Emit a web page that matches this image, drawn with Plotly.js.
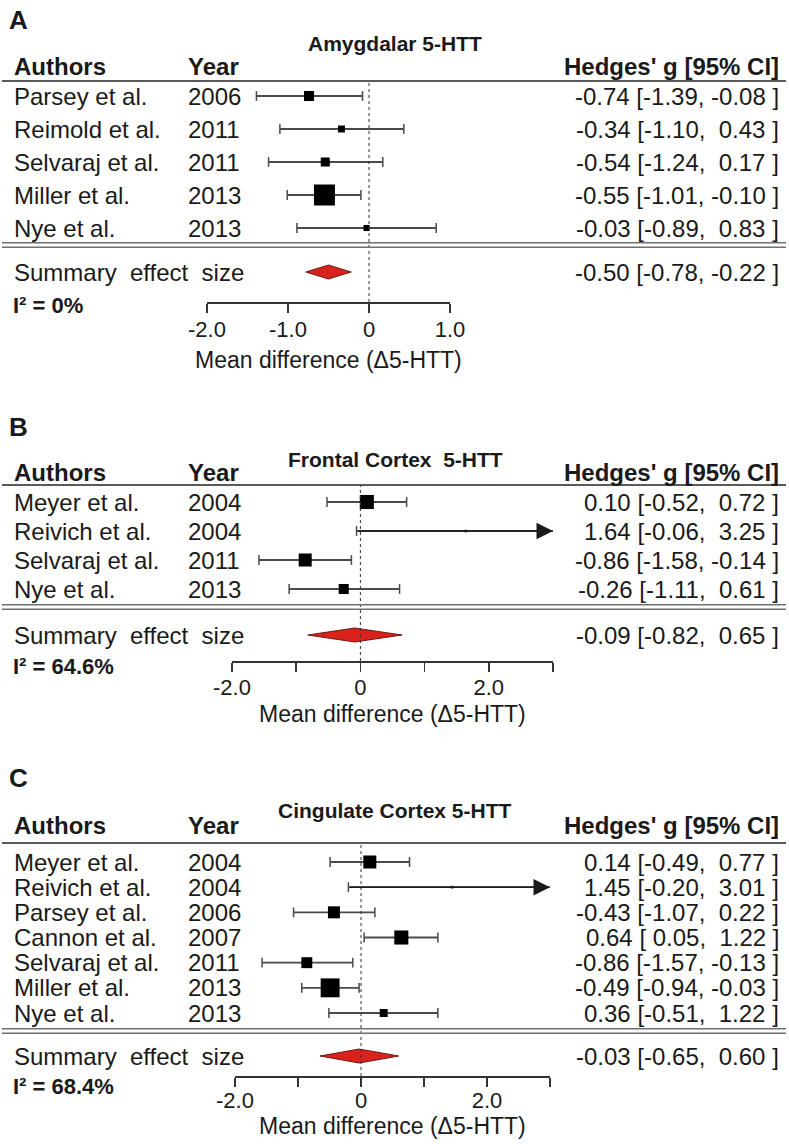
<!DOCTYPE html>
<html>
<head>
<meta charset="utf-8">
<script src="https://cdn.plot.ly/plotly-3.0.1.min.js"></script>
<style>
html,body{margin:0;padding:0;background:#fff;}
#chart{width:789px;height:1144px;}
</style>
</head>
<body>
<div id="chart"></div>
<script>
// ---------------- DATA ----------------
// Panel A: Amygdalar 5-HTT
const authorsA = ["Parsey et al.", "Reimold et al.", "Selvaraj et al.", "Miller et al.", "Nye et al."];
const yearsA   = [2006, 2011, 2011, 2013, 2013];
const estA     = [-0.74, -0.34, -0.54, -0.55, -0.03];
const lowerA   = [-1.39, -1.10, -1.24, -1.01, -0.89];
const upperA   = [-0.08,  0.43,  0.17, -0.10,  0.83];
const weightsA = [0.48, 0.33, 0.43, 1.00, 0.29];   // relative study weights (square size)
const summaryA = [-0.50, -0.78, -0.22];            // estimate, lower, upper
const i2A      = "0%";

// Panel B: Frontal Cortex 5-HTT
const authorsB = ["Meyer et al.", "Reivich et al.", "Selvaraj et al.", "Nye et al."];
const yearsB   = [2004, 2004, 2011, 2013];
const estB     = [0.10, 1.64, -0.86, -0.26];
const lowerB   = [-0.52, -0.06, -1.58, -1.11];
const upperB   = [0.72, 3.25, -0.14, 0.61];
const weightsB = [0.67, 0.12, 0.62, 0.48];
const summaryB = [-0.09, -0.82, 0.65];
const i2B      = "64.6%";

// Panel C: Cingulate Cortex 5-HTT
const authorsC = ["Meyer et al.", "Reivich et al.", "Parsey et al.", "Cannon et al.", "Selvaraj et al.", "Miller et al.", "Nye et al."];
const yearsC   = [2004, 2004, 2006, 2007, 2011, 2013, 2013];
const estC     = [0.14, 1.45, -0.43, 0.64, -0.86, -0.49, 0.36];
const lowerC   = [-0.49, -0.20, -1.07, 0.05, -1.57, -0.94, -0.51];
const upperC   = [0.77, 3.01, 0.22, 1.22, -0.13, -0.03, 1.22];
const weightsC = [0.62, 0.12, 0.57, 0.67, 0.52, 0.90, 0.38];
const summaryC = [-0.03, -0.65, 0.60];
const i2C      = "68.4%";

const titles  = ["Amygdalar 5-HTT", "Frontal Cortex\u00a0 5-HTT", "Cingulate Cortex 5-HTT"];
const letters = ["A", "B", "C"];
const tickVals  = [[-2, -1, 0, 1], [-2, -1, 0, 1, 2, 3], [-2, -1, 0, 1, 2, 3]];
const tickTexts = [["-2.0", "-1.0", "0", "1.0"], ["-2.0", "", "0", "", "2.0", ""], ["-2.0", "", "0", "", "2.0", ""]];
const axisTitle = "Mean difference (\u03945-HTT)";
const colHeaders = ["Authors", "Year", "Hedges' g [95% CI]"];
const summaryLabel = "Summary\u00a0 effect\u00a0 size";

// ---------------- LAYOUT (pixel geometry) ----------------
const W = 789, H = 1144;
const px = x => x / W;
const py = y => 1 - y / H;
const FONT = "Liberation Sans, Arial, Helvetica, sans-serif";
const TXT = "#1a1a1a";

const geo = [
  {letterY: 20, titleY: 43, headY: 67, top: 81, row1: 96, step: 33, dbl: 245, sum: 272, bottom: 302,
   i2Y: 305, axTitleY: 360, tickStand: -2, xL: 207, xR: 450, xmin: -2, xmax: 1},
  {letterY: 427, titleY: 459, headY: 472, top: 485, row1: 502, step: 29, dbl: 607, sum: 635, bottom: 661,
   i2Y: 666, axTitleY: 714, tickStand: -3, xL: 232, xR: 553, xmin: -2, xmax: 3},
  {letterY: 778, titleY: 810, headY: 826, top: 843, row1: 862, step: 25.17, dbl: 1031, sum: 1056, bottom: 1076,
   i2Y: 1086, axTitleY: 1126, tickStand: -5, xL: 235, xR: 550, xmin: -2, xmax: 3}
];

const panels = [
  {authors: authorsA, years: yearsA, est: estA, lo: lowerA, hi: upperA, w: weightsA, sum: summaryA, i2: i2A},
  {authors: authorsB, years: yearsB, est: estB, lo: lowerB, hi: upperB, w: weightsB, sum: summaryB, i2: i2B},
  {authors: authorsC, years: yearsC, est: estC, lo: lowerC, hi: upperC, w: weightsC, sum: summaryC, i2: i2C}
];

const MAXSQ = 21;          // px side of the largest square
const DIAMOND_HALF = 7;    // px half-height of summary diamond
const ROWFS = 24;

const fmt = v => (v < 0 ? "" : "\u00a0") + v.toFixed(2);
const ciText = (e, l, h) => e.toFixed(2) + " [" + fmt(l) + ",\u00a0" + fmt(h) + "\u00a0]";

const traces = [];
const annotations = [];
const shapes = [];
const layout = {
  width: W, height: H,
  margin: {l: 0, r: 0, t: 0, b: 0, pad: 0},
  paper_bgcolor: "#ffffff", plot_bgcolor: "rgba(0,0,0,0)",
  showlegend: false, hovermode: false,
  font: {family: FONT, color: TXT}
};

panels.forEach((d, p) => {
  const g = geo[p];
  const sfx = p === 0 ? "" : String(p + 1);
  const xa = "x" + sfx, ya = "y" + sfx;

  // axes
  layout["xaxis" + sfx] = {
    domain: [px(g.xL), px(g.xR)], range: [g.xmin, g.xmax], anchor: ya,
    showline: true, linecolor: "#333", linewidth: 1.5, mirror: false,
    ticks: "outside", ticklen: 9, tickwidth: 1.5, tickcolor: "#333",
    tickmode: "array", tickvals: tickVals[p], ticktext: tickTexts[p],
    ticklabelstandoff: g.tickStand,
    tickfont: {family: FONT, size: 22, color: TXT},
    showgrid: false, zeroline: false, fixedrange: true
  };
  layout["yaxis" + sfx] = {
    domain: [py(g.bottom), py(g.top)],
    range: [(g.bottom - g.row1) / g.step, (g.top - g.row1) / g.step],
    anchor: xa, visible: false, showgrid: false, zeroline: false, fixedrange: true
  };

  const rows = d.authors.map((_, i) => i);
  const sumRow = (g.sum - g.row1) / g.step;
  const dh = DIAMOND_HALF / g.step;

  // CI lines (clipped at axis max)
  const lx = [], ly = [];
  d.lo.forEach((l, i) => { lx.push(l, Math.min(d.hi[i], g.xmax), null); ly.push(i, i, null); });
  traces.push({type: "scatter", mode: "lines", x: lx, y: ly, xaxis: xa, yaxis: ya,
    line: {color: "#4a4a4a", width: 1.8}, hoverinfo: "skip"});

  // whisker caps
  const cx = [], cy = [];
  d.lo.forEach((l, i) => {
    cx.push(l); cy.push(i);
    if (d.hi[i] <= g.xmax) { cx.push(d.hi[i]); cy.push(i); }
  });
  traces.push({type: "scatter", mode: "markers", x: cx, y: cy, xaxis: xa, yaxis: ya,
    marker: {symbol: "line-ns", size: 7, color: "#4a4a4a", opacity: 1,
      line: {color: "#4a4a4a", width: 1.5}}, hoverinfo: "skip"});

  // arrows for CIs beyond the axis
  d.hi.forEach((h, i) => {
    if (h > g.xmax) {
      annotations.push({xref: xa, yref: ya, axref: xa, ayref: ya,
        x: g.xmax, y: i, ax: d.lo[i], ay: i, text: "", showarrow: true,
        arrowhead: 2, arrowsize: 2.2, arrowwidth: 1.5, arrowcolor: "#1a1a1a", standoff: 0});
    }
  });

  // study squares
  traces.push({type: "scatter", mode: "markers", x: d.est, y: rows, xaxis: xa, yaxis: ya,
    marker: {symbol: "square", size: d.w.map(w => Math.max(2.5, w * MAXSQ)), color: "#000000",
      opacity: 1, line: {width: 0}}, hoverinfo: "skip"});

  // summary diamond
  const [se, sl, sh] = d.sum;
  traces.push({type: "scatter", mode: "lines", xaxis: xa, yaxis: ya,
    x: [sl, se, sh, se, sl], y: [sumRow, sumRow - dh, sumRow, sumRow + dh, sumRow],
    fill: "toself", fillcolor: "#d9221c", line: {color: "#6e1a16", width: 1}, hoverinfo: "skip"});

  // no-effect dotted line
  shapes.push({type: "line", xref: xa, yref: "paper", x0: 0, x1: 0, y0: py(g.bottom), y1: py(g.top),
    line: {color: "#333", width: 1, dash: "dot"}});

  // header line and double separator line
  shapes.push({type: "line", xref: "paper", yref: "paper", x0: px(2), x1: px(786), y0: py(g.top), y1: py(g.top),
    line: {color: "#5a5a5a", width: 2}});
  [-2.2, 2.2].forEach(o => shapes.push({type: "line", xref: "paper", yref: "paper",
    x0: px(2), x1: px(786), y0: py(g.dbl + o), y1: py(g.dbl + o), line: {color: "#707070", width: 1.6}}));

  // panel letter & title
  annotations.push({xref: "paper", yref: "paper", x: px(7), y: py(g.letterY), xanchor: "left", yanchor: "middle",
    text: "<b>" + letters[p] + "</b>", showarrow: false, font: {family: FONT, size: 26, color: TXT}});
  annotations.push({xref: "paper", yref: "paper", x: px(395), y: py(g.titleY), xanchor: "center", yanchor: "middle",
    text: "<b>" + titles[p] + "</b>", showarrow: false, font: {family: FONT, size: 21, color: TXT}});

  // column headers
  const hx = [[12, "left"], [186, "left"], [781, "right"]];
  colHeaders.forEach((t, j) => annotations.push({xref: "paper", yref: "paper", x: px(hx[j][0]), y: py(g.headY),
    xanchor: hx[j][1], yanchor: "middle", text: "<b>" + t + "</b>", showarrow: false,
    font: {family: FONT, size: 24, color: TXT}}));

  // study rows
  d.authors.forEach((a, i) => {
    annotations.push({xref: "paper", yref: ya, x: px(12), y: i, xanchor: "left", yanchor: "middle",
      text: a, showarrow: false, font: {family: FONT, size: ROWFS, color: TXT}});
    annotations.push({xref: "paper", yref: ya, x: px(186), y: i, xanchor: "left", yanchor: "middle",
      text: String(d.years[i]), showarrow: false, font: {family: FONT, size: ROWFS, color: TXT}});
    annotations.push({xref: "paper", yref: ya, x: px(781), y: i, xanchor: "right", yanchor: "middle",
      text: ciText(d.est[i], d.lo[i], d.hi[i]), showarrow: false, font: {family: FONT, size: ROWFS, color: TXT}});
  });

  // summary row
  annotations.push({xref: "paper", yref: ya, x: px(12), y: sumRow, xanchor: "left", yanchor: "middle",
    text: summaryLabel, showarrow: false, font: {family: FONT, size: ROWFS, color: TXT}});
  annotations.push({xref: "paper", yref: ya, x: px(781), y: sumRow, xanchor: "right", yanchor: "middle",
    text: ciText(se, sl, sh), showarrow: false, font: {family: FONT, size: ROWFS, color: TXT}});

  // heterogeneity
  annotations.push({xref: "paper", yref: "paper", x: px(11), y: py(g.i2Y), xanchor: "left", yanchor: "middle",
    text: "<b>I\u00b2 = " + d.i2 + "</b>", showarrow: false, font: {family: FONT, size: 22, color: TXT}});

  // axis title
  annotations.push({xref: "paper", yref: "paper", x: px((g.xL + g.xR) / 2), y: py(g.axTitleY),
    xanchor: "center", yanchor: "middle", text: axisTitle, showarrow: false,
    font: {family: FONT, size: 23, color: TXT}});
});

layout.annotations = annotations;
layout.shapes = shapes;

Plotly.newPlot("chart", traces, layout, {staticPlot: true, displayModeBar: false});
</script>
</body>
</html>
